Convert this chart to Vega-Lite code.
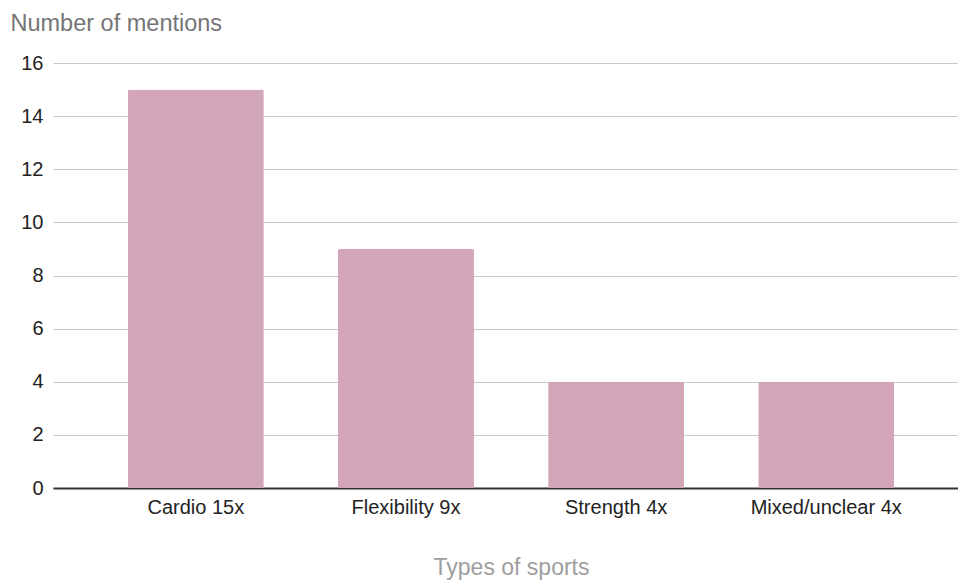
{
  "$schema": "https://vega.github.io/schema/vega-lite/v6.json",
  "width": 905,
  "height": 425,
  "autosize": {"type": "none"},
  "padding": {"left": 53, "top": 63, "right": 0, "bottom": 93},
  "background": "white",
  "config": {
    "view": {"stroke": null},
    "font": "Liberation Sans"
  },
  "data": {
    "values": [
      {"type": "Cardio 15x", "mentions": 15},
      {"type": "Flexibility 9x", "mentions": 9},
      {"type": "Strength 4x", "mentions": 4},
      {"type": "Mixed/unclear 4x", "mentions": 4}
    ]
  },
  "mark": {
    "type": "bar",
    "color": "#d3a5b8",
    "cornerRadiusTopLeft": 2,
    "cornerRadiusTopRight": 2
  },
  "encoding": {
    "x": {
      "field": "type",
      "type": "nominal",
      "sort": null,
      "scale": {"paddingInner": 0.353, "paddingOuter": 0.33, "align": 0.54},
      "axis": {
        "title": "Types of sports",
        "titleFont": "Liberation Sans",
        "titleFontSize": 23,
        "titleFontWeight": "normal",
        "titleColor": "#9e9e9e",
        "titleX": 458,
        "titleY": 86,
        "titleBaseline": "alphabetic",
        "titleAnchor": null,
        "titleAlign": "center",
        "labelAngle": 0,
        "labelFontSize": 20,
        "labelColor": "#222222",
        "labelPadding": 9,
        "ticks": false,
        "domainColor": "#333333",
        "domainWidth": 2,
        "grid": false
      }
    },
    "y": {
      "field": "mentions",
      "type": "quantitative",
      "scale": {"domain": [0, 16], "nice": false},
      "axis": {
        "values": [0, 2, 4, 6, 8, 10, 12, 14, 16],
        "title": "Number of mentions",
        "titleFont": "Liberation Sans",
        "titleFontSize": 23.5,
        "titleFontWeight": "normal",
        "titleColor": "#757575",
        "titleAngle": 0,
        "titleAlign": "left",
        "titleBaseline": "alphabetic",
        "titleX": -43,
        "titleY": -32.5,
        "labelFontSize": 20,
        "labelColor": "#222222",
        "labelPadding": 10,
        "ticks": false,
        "domain": false,
        "grid": true,
        "gridColor": "#c8c8c8",
        "gridWidth": 1.2
      }
    }
  }
}
